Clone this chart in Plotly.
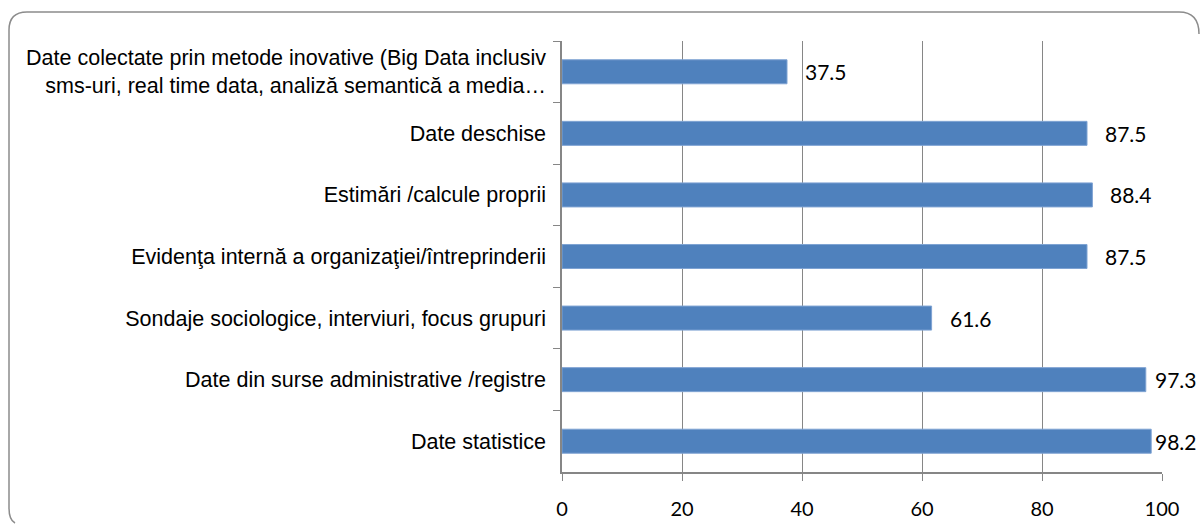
import plotly.graph_objects as go

categories = [
    "Date colectate prin metode inovative (Big Data inclusiv<br>sms-uri, real time data, analiză semantică a media…",
    "Date deschise",
    "Estimări /calcule proprii",
    "Evidenţa internă a organizaţiei/întreprinderii",
    "Sondaje sociologice, interviuri, focus grupuri",
    "Date din surse administrative /registre",
    "Date statistice",
]
values = [37.5, 87.5, 88.4, 87.5, 61.6, 97.3, 98.2]
x_ticks = [0, 20, 40, 60, 80, 100]

W, H = 1200, 524
L, R, T, B = 562, 38, 41, 52
pw, ph = W - L - R, H - T - B

fig = go.Figure()
fig.add_trace(go.Bar(
    x=values, y=categories, orientation="h", width=0.39,
    marker=dict(color="#4F81BD", line=dict(color="#7FA3D3", width=1)),
    hoverinfo="x+y",
))

label_w = 43  # approx pixel width of a value label
for c, v in zip(categories, values):
    end_px = L + v / 100 * pw + 16 + label_w
    if end_px <= W - 1:
        fig.add_annotation(x=v, y=c, text=f"{v:.1f}", showarrow=False,
                           xanchor="left", xshift=16,
                           font=dict(family="Lato", size=21, color="#000000"))
    else:
        fig.add_annotation(x=(W - 1.5 - L) / pw, xref="paper", y=c, text=f"{v:.1f}",
                           showarrow=False, xanchor="right",
                           font=dict(family="Lato", size=21, color="#000000"))

# rounded frame, open at bottom/right edges (pixel -> paper conversion)
def px(xp):
    return (xp - L) / pw
def py(yp):
    return (H - B - yp) / ph

path = (f"M {px(1199)},{py(34)} Q {px(1199)},{py(12)} {px(1179)},{py(12)} "
        f"L {px(27)},{py(12)} Q {px(9)},{py(12)} {px(9)},{py(30)} "
        f"L {px(9)},{py(508)} Q {px(9)},{py(520)} {px(15)},{py(523)}")
fig.add_shape(type="path", path=path, xref="paper", yref="paper",
              line=dict(color="#8C8C8C", width=1.5), layer="below")

fig.update_layout(
    width=W, height=H,
    margin=dict(l=L, r=R, t=T, b=B, pad=0),
    plot_bgcolor="white", paper_bgcolor="white",
    showlegend=False,
    xaxis=dict(range=[0, 100], tickvals=x_ticks, ticks="outside", ticklen=7,
               tickcolor="#868686", showgrid=True, gridcolor="#868686", gridwidth=1,
               showline=True, linecolor="#868686", linewidth=1.5, zeroline=False,
               tickfont=dict(family="Lato", size=20, color="#000000"),
               ticklabelstandoff=11, fixedrange=True, automargin=False),
    yaxis=dict(autorange="reversed", ticks="outside", ticklen=7, tickson="boundaries",
               tickcolor="#868686", showline=True, linecolor="#868686", linewidth=1.5,
               showgrid=False,
               tickfont=dict(family="Liberation Sans, Arial", size=21.5, color="#000000"),
               ticklabelstandoff=10, fixedrange=True, automargin=False),
)

fig.write_html(
    "out.html",
    config={"displayModeBar": False},
    post_script=("document.documentElement.style.margin='0';"
                 "document.documentElement.style.overflow='hidden';"
                 "document.body.style.margin='0';document.body.style.padding='0';"
                 "document.body.style.overflow='hidden';"),
)
